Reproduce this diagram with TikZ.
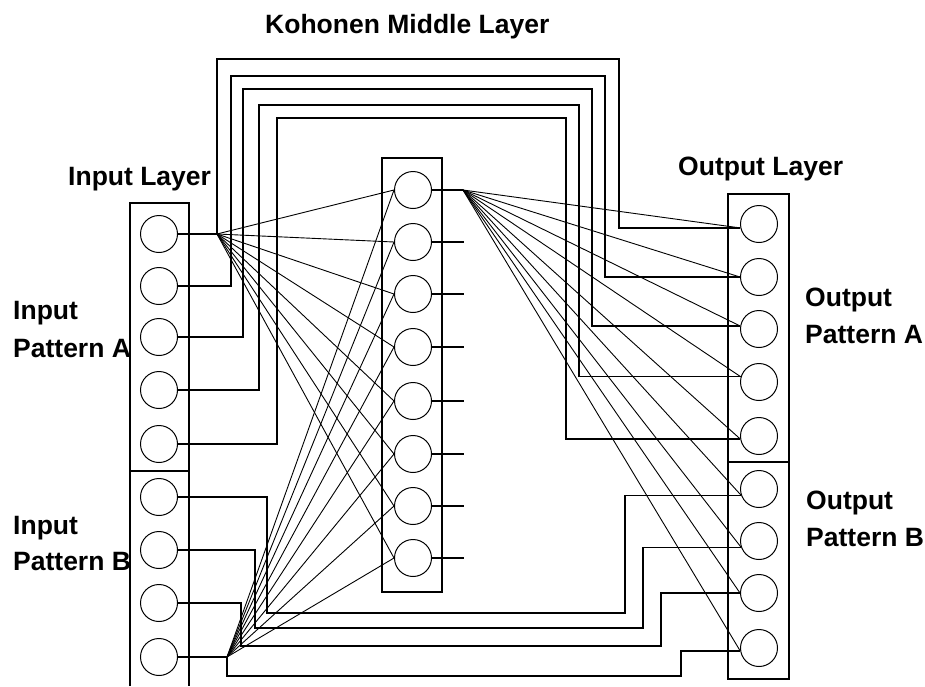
\documentclass[tikz,border=0pt]{standalone}
\usepackage{fontspec}
\setmainfont{Liberation Sans}
\begin{document}
\begin{tikzpicture}[x=1pt,y=-1pt,
  neuron/.style={draw, circle, minimum size=37pt, inner sep=0pt, line width=1pt},
  wire/.style={line width=1.2pt},
  thin wire/.style={line width=0.9pt},
  lbl/.style={font=\fontsize{26.5}{30}\selectfont\bfseries, inner sep=0pt, anchor=base west}]
\useasboundingbox (0,0) rectangle (925,686);
% layer boxes
\draw[wire] (130,686) -- (130,203) -- (189,203) -- (189,686);
\draw[wire] (130,471) -- (189,471);
\draw[wire] (382,158) rectangle (442,592);
\draw[wire] (728,194) rectangle (789,679);
\draw[wire] (728,462) -- (789,462);
% input neurons
\foreach \n/\y in {1/234,2/286,3/337,4/390,5/444,6/497,7/550,8/603,9/657}
  \node[neuron] (i\n) at (159,\y) {};
% kohonen neurons
\foreach \n/\y in {1/190,2/242,3/294,4/347,5/401,6/454,7/506,8/558}
  \node[neuron] (k\n) at (413,\y) {};
% output neurons
\foreach \n/\y in {1/224,2/277,3/329,4/382,5/436,6/489,7/541,8/593,9/648}
  \node[neuron] (o\n) at (759,\y) {};
% fan points
\coordinate (fa) at (217,234);
\coordinate (fb) at (227,657);
\coordinate (fk) at (463,190);
% top loops (input pattern A -> output pattern A)
\draw[wire] (i1.east) -- (fa) |- (619,59) |- (o1.192);
\draw[wire] (i2.east) -| (231,76) -- (605,76) |- (o2.west);
\draw[wire] (i3.east) -| (243,89) -- (592,89) |- (o3.171);
\draw[wire] (i4.east) -| (259,105) -- (579,105) |- (o4.164);
\draw[wire] (i5.east) -| (277,118) -- (566,118) |- (o5.189);
% bottom loops (input pattern B -> output pattern B)
\draw[wire] (i6.east) -| (267,613) -- (625,613) |- (o6.199);
\draw[wire] (i7.east) -| (255,628) -- (643,628) |- (o7.199);
\draw[wire] (i8.east) -| (241,646) -- (661,646) |- (o8.west);
\draw[wire] (i9.east) -- (fb) |- (681,676) |- (o9.189);
% kohonen output stubs
\draw[wire] (k1.east) -- (fk);
\foreach \n in {2,...,8} \draw[wire] (k\n.east) -- ++(32,0);
% fans into the kohonen layer
\foreach \n in {1,...,8} {
  \draw[thin wire] (fa) -- (k\n.west);
  \draw[thin wire] (fb) -- (k\n.west);
}
% fan from kohonen neuron 1 to output layer
\foreach \a in {o1.192,o2.west,o3.171,o4.164,o5.189,o6.199,o7.199,o8.west,o9.189}
  \draw[thin wire] (fk) -- (\a);
% labels
\node[lbl] (tk) at (265,33) {Kohonen Middle Layer};
\node[lbl] (til) at (68,185) {Input Layer};
\node[lbl] (tol) at (678,175) {Output Layer};
\node[lbl] (ipa1) at (13,319) {Input};
\node[lbl] (ipa2) at (13,357) {Pattern A};
\node[lbl] (ipb1) at (13,534) {Input};
\node[lbl] (ipb2) at (13,570) {Pattern B};
\node[lbl] (opa1) at (805,306) {Output};
\node[lbl] (opa2) at (805,343) {Pattern A};
\node[lbl] (opb1) at (806,509) {Output};
\node[lbl] (opb2) at (806,546) {Pattern B};
\end{tikzpicture}
\end{document}
